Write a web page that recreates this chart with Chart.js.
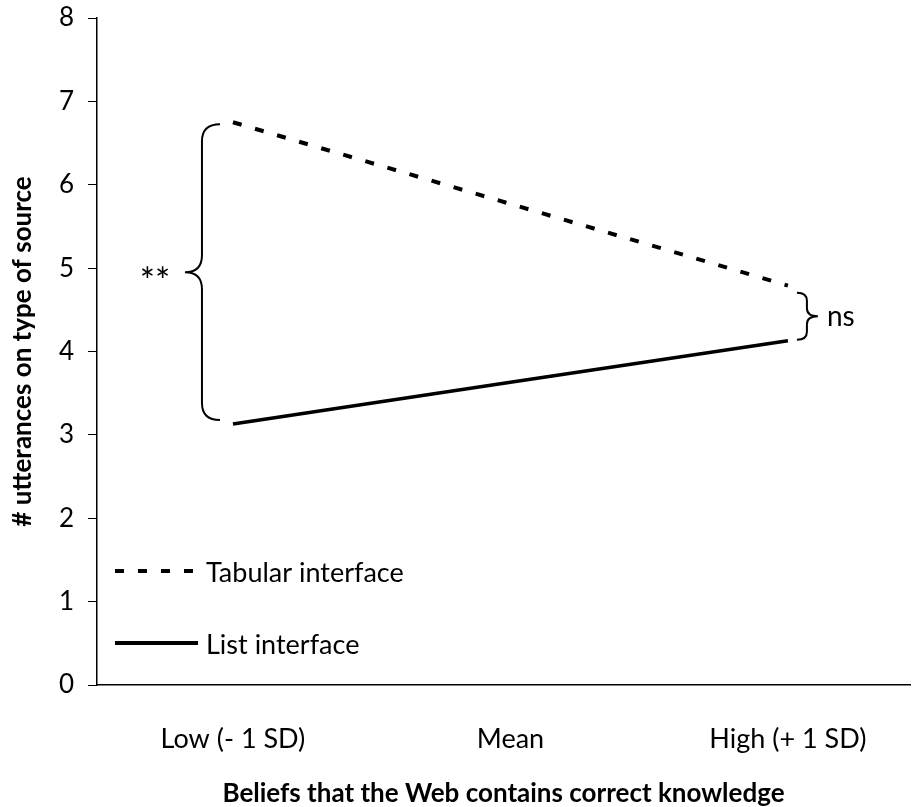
<!DOCTYPE html>
<html>
<head>
<meta charset="utf-8">
<script src="https://cdn.jsdelivr.net/npm/chart.js@4/dist/chart.umd.min.js"></script>
<style>
  html, body { margin: 0; padding: 0; background: #fff; }
  #wrap { width: 912px; height: 807px; }
</style>
</head>
<body>
<div id="wrap"><canvas id="c"></canvas></div>
<script>
// Interaction: interface type x beliefs about the Web
const categories = ['Low (- 1 SD)', 'Mean', 'High (+ 1 SD)'];
const tabularValues = [6.75, 5.77, 4.79];
const listValues = [3.13, 3.63, 4.13];
const yTicks = [0, 1, 2, 3, 4, 5, 6, 7, 8];
const seriesNames = ['Tabular interface', 'List interface'];
const lowContrastLabel = '**';
const highContrastLabel = 'ns';

const FONT = 'Lato, "Open Sans", sans-serif';
const DASH = [9, 14];

const toPoints = vals => vals.map((v, i) => ({ x: i, y: v }));

// Curly brace opening to the right (tips on the right, point on the left)
function braceLeft(ctx, tipX, spineX, pointX, top, bottom, r) {
  const mid = (top + bottom) / 2;
  ctx.beginPath();
  ctx.moveTo(tipX, top);
  ctx.quadraticCurveTo(spineX, top, spineX, top + r);
  ctx.lineTo(spineX, mid - r);
  ctx.quadraticCurveTo(spineX, mid, pointX, mid);
  ctx.quadraticCurveTo(spineX, mid, spineX, mid + r);
  ctx.lineTo(spineX, bottom - r);
  ctx.quadraticCurveTo(spineX, bottom, tipX, bottom);
  ctx.stroke();
  return mid;
}

const annotations = {
  id: 'annotations',
  afterDatasetsDraw(chart) {
    const { ctx, scales: { x, y }, chartArea } = chart;
    ctx.save();
    ctx.strokeStyle = '#000';
    ctx.fillStyle = '#000';
    ctx.lineWidth = 2;
    ctx.lineCap = 'butt';

    // Contrast at the low end
    const xLo = x.getPixelForValue(0);
    const topLo = y.getPixelForValue(tabularValues[0]) + 2;
    const botLo = y.getPixelForValue(listValues[0]) - 4;
    const midLo = braceLeft(ctx, xLo - 13, xLo - 31, xLo - 48, topLo, botLo, 17);
    ctx.font = '36px ' + FONT;
    ctx.textAlign = 'center';
    ctx.textBaseline = 'middle';
    ctx.fillText(lowContrastLabel, xLo - 78, midLo + 10);

    // Contrast at the high end
    const xHi = x.getPixelForValue(2);
    const topHi = y.getPixelForValue(tabularValues[2]) + 7;
    const botHi = y.getPixelForValue(listValues[2]) - 1;
    const midHi = braceLeft(ctx, xHi + 9, xHi + 19, xHi + 30, topHi, botHi, 8);
    ctx.font = '28px ' + FONT;
    ctx.textAlign = 'left';
    ctx.fillText(highContrastLabel, xHi + 39, midHi + 1);

    // Legend
    const lx0 = chartArea.left + 18, lx1 = chartArea.left + 101;
    const rows = [
      { y: chartArea.top + 553, dash: DASH, name: seriesNames[0] },
      { y: chartArea.top + 625, dash: [], name: seriesNames[1] }
    ];
    rows.forEach(r => {
      ctx.lineWidth = 4;
      ctx.setLineDash(r.dash);
      ctx.beginPath();
      ctx.moveTo(lx0, r.y);
      ctx.lineTo(lx1, r.y);
      ctx.stroke();
      ctx.setLineDash([]);
      ctx.font = '27px ' + FONT;
      ctx.textAlign = 'left';
      ctx.textBaseline = 'middle';
      ctx.fillText(r.name, lx1 + 8, r.y + 2);
    });
    ctx.restore();
  }
};

new Chart(document.getElementById('c'), {
  type: 'line',
  data: {
    datasets: [
      {
        label: seriesNames[0],
        data: toPoints(tabularValues),
        borderColor: '#000',
        borderWidth: 4,
        borderDash: DASH,
        pointRadius: 0,
        tension: 0,
        fill: false
      },
      {
        label: seriesNames[1],
        data: toPoints(listValues),
        borderColor: '#000',
        borderWidth: 3.5,
        pointRadius: 0,
        tension: 0,
        fill: false
      }
    ]
  },
  options: {
    responsive: true,
    maintainAspectRatio: false,
    animation: false,
    layout: { padding: { top: 18, right: 2, left: 0, bottom: 0 } },
    plugins: { legend: { display: false }, tooltip: { enabled: false } },
    scales: {
      x: {
        type: 'linear',
        min: -0.49,
        max: 2.44,
        afterBuildTicks: s => { s.ticks = categories.map((_, i) => ({ value: i })); },
        afterFit: s => { s.height = 122; s.paddingLeft = 0; s.paddingRight = 0; },
        grid: { display: false },
        border: { display: true, color: '#000', width: 1.5 },
        ticks: {
          autoSkip: false,
          maxRotation: 0,
          padding: 30,
          color: '#000',
          font: { family: FONT, size: 27 },
          callback: v => categories[Math.round(v)]
        },
        title: {
          display: true,
          text: 'Beliefs that the Web contains correct knowledge',
          color: '#000',
          font: { family: FONT, size: 26, weight: 'bold' },
          padding: { top: 0, bottom: -2 }
        }
      },
      y: {
        min: yTicks[0],
        max: yTicks[yTicks.length - 1],
        afterBuildTicks: s => { s.ticks = yTicks.map(v => ({ value: v })); },
        afterFit: s => { s.width = 97; s.paddingTop = 0; s.paddingBottom = 0; },
        grid: { display: true, drawOnChartArea: false, drawTicks: true, tickLength: 9, color: '#000', tickColor: '#000' },
        border: { display: true, color: '#000', width: 1.5 },
        ticks: {
          padding: 14,
          color: '#000',
          font: { family: FONT, size: 26 }
        },
        title: {
          display: true,
          text: '# utterances on type of source',
          color: '#000',
          font: { family: FONT, size: 26, weight: 'bold' },
          padding: { top: 7, bottom: 0 }
        }
      }
    }
  },
  plugins: [annotations]
});
</script>
</body>
</html>
